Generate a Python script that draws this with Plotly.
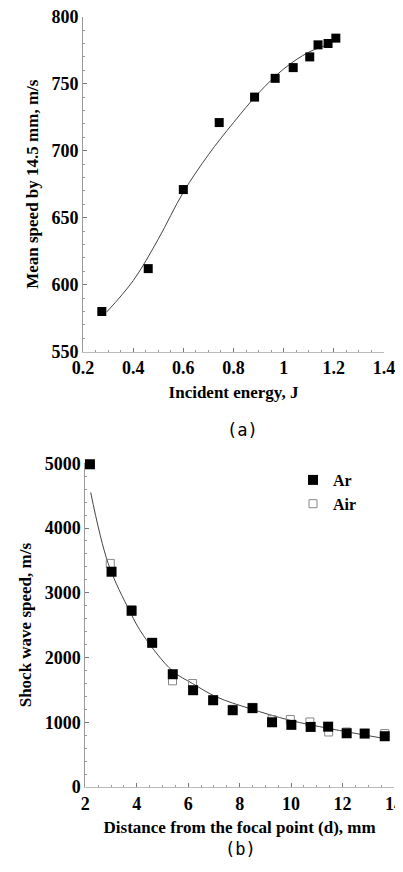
import plotly.graph_objects as go

# ---- Panel (a) data ----
energy = [0.275, 0.46, 0.60, 0.743, 0.884, 0.966, 1.038, 1.104, 1.137, 1.177, 1.208]
speed_a = [580, 612, 671, 721, 740, 754, 762, 770, 779, 780, 784]
fit_a_x = [0.294, 0.40, 0.50, 0.60, 0.70, 0.80, 0.90, 1.00, 1.10, 1.19]
fit_a_y = [579.5, 603, 634, 669, 697, 721, 743, 761, 773.5, 780]

# ---- Panel (b) data ----
dist_ar = [2.18, 3.02, 3.80, 4.60, 5.40, 6.19, 6.97, 7.73, 8.50, 9.26, 10.01, 10.76, 11.44, 12.16, 12.86, 13.64]
speed_ar = [4985, 3325, 2722, 2227, 1742, 1495, 1340, 1186, 1218, 1000, 960, 928, 932, 830, 825, 784]
dist_air = [2.18, 2.97, 3.80, 4.60, 5.39, 6.17, 6.97, 7.73, 8.50, 9.26, 9.97, 10.73, 11.46, 12.16, 12.86, 13.64]
speed_air = [4985, 3454, 2740, 2230, 1640, 1598, 1350, 1200, 1230, 1040, 1042, 1005, 850, 850, 830, 825]
fit_b_x = [2.21, 2.89, 3.74, 4.25, 5.39, 6.17, 7.10, 8.40, 9.95, 11.5, 13.64]
fit_b_y = [4550, 3453, 2705, 2345, 1793, 1598, 1391, 1211, 1031, 902, 748]

OFF = 8  # page body margin
W, H = 403 - 2 * OFF, 872 - 2 * OFF  # figure fits the window exactly, no scrolling
SERIF = "Liberation Serif"
tick_font = dict(family=SERIF, size=18, color="black", weight="bold")
title_font = dict(family=SERIF, size=17, color="black", weight="bold")

fig = go.Figure()

# panel (a)
fig.add_trace(go.Scatter(x=fit_a_x, y=fit_a_y, mode="lines", line=dict(color="#444", width=1, shape="spline"),
                         showlegend=False, xaxis="x", yaxis="y", hoverinfo="skip"))
fig.add_trace(go.Scatter(x=energy, y=speed_a, mode="markers", cliponaxis=False,
                         marker=dict(symbol="square", size=9, color="black"),
                         showlegend=False, xaxis="x", yaxis="y"))

# panel (b)
fig.add_trace(go.Scatter(x=fit_b_x, y=fit_b_y, mode="lines", line=dict(color="#444", width=1, shape="spline"),
                         showlegend=False, xaxis="x2", yaxis="y2", hoverinfo="skip"))
fig.add_trace(go.Scatter(x=dist_air, y=speed_air, mode="markers", name="Air", cliponaxis=False,
                         marker=dict(symbol="square-open", size=8, color="#888", line=dict(width=1)),
                         xaxis="x2", yaxis="y2"))
fig.add_trace(go.Scatter(x=dist_ar, y=speed_ar, mode="markers", name="Ar", cliponaxis=False,
                         marker=dict(symbol="square", size=10, color="black"),
                         xaxis="x2", yaxis="y2"))

def px_x(p):
    return (p - OFF) / W

def px_y(p):
    return 1 - (p - OFF) / H

common = dict(showgrid=False, zeroline=False, showline=True, linewidth=1, automargin=False,
              ticks="inside", ticklen=4, tickwidth=1, tickcolor="#777",
              ticklabeloverflow="allow",
              tickfont=tick_font, title_font=title_font,
              minor=dict(ticks="inside", ticklen=2, tickcolor="#999"))

fig.update_layout(
    width=W, height=H,
    margin=dict(l=0, r=0, t=0, b=0),
    paper_bgcolor="white", plot_bgcolor="white",
    xaxis=dict(domain=[px_x(83), px_x(384)], range=[0.2, 1.4], dtick=0.2, tickformat="~g",
               anchor="y", linecolor="#bbb",
               title=dict(text="Incident energy, J", standoff=8), **common),
    yaxis=dict(domain=[px_y(351.7), px_y(16.7)], range=[550, 800], dtick=50,
               anchor="x", linecolor="#999", ticklabelstandoff=0,
               title=dict(text="Mean speed by 14.5 mm, m/s", standoff=8), **common),
    xaxis2=dict(domain=[px_x(85.3), px_x(394)], range=[2, 14], dtick=2,
                anchor="y2", linecolor="#bbb",
                title=dict(text="Distance from the focal point (d), mm", standoff=8), **common),
    yaxis2=dict(domain=[px_y(787), px_y(463.3)], range=[0, 5000], dtick=1000,
                anchor="x2", linecolor="#999", ticklabelstandoff=0,
                title=dict(text="Shock wave speed, m/s", standoff=8), **common),
    legend=dict(x=px_x(293), y=px_y(463), xanchor="left", yanchor="top",
                font=dict(family=SERIF, size=16, color="black", weight="bold"),
                traceorder="reversed", bgcolor="rgba(0,0,0,0)", tracegroupgap=0),
    annotations=[
        dict(text="(a)", x=px_x(242), y=px_y(430), xref="paper", yref="paper", showarrow=False,
             xanchor="center", yanchor="middle",
             font=dict(family="DejaVu Sans Mono", size=17, color="black")),
        dict(text="(b)", x=px_x(240), y=px_y(849), xref="paper", yref="paper", showarrow=False,
             xanchor="center", yanchor="middle",
             font=dict(family="DejaVu Sans Mono", size=17, color="black")),
    ],
)

fig.write_html("out.html")
